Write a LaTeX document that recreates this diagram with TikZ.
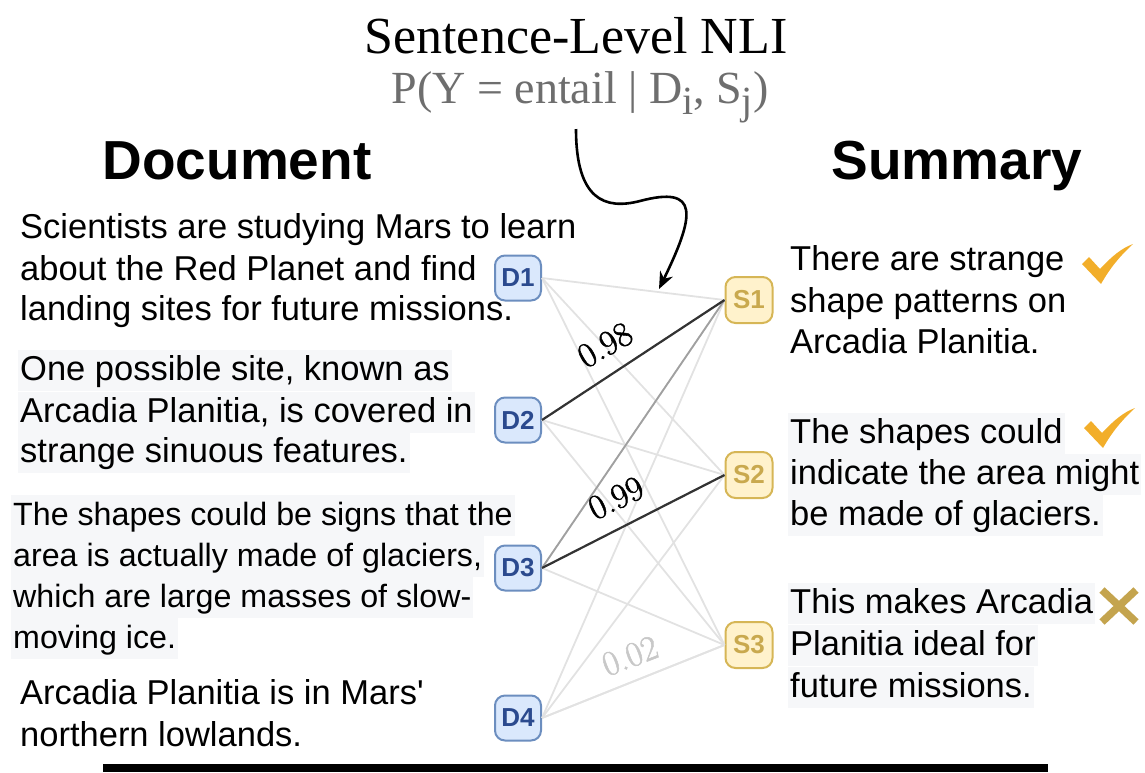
\documentclass[tikz,border=0pt]{standalone}
\usepackage{fontspec}
\setsansfont{Liberation Sans}
\newfontfamily\titlefont{Liberation Serif}
\newfontfamily\scorefont{Latin Modern Roman}[FakeBold=1.5]
\usetikzlibrary{arrows.meta}
\definecolor{dfill}{HTML}{DAE8FC}
\definecolor{ddraw}{HTML}{6C8EBF}
\definecolor{dtext}{HTML}{2B4A8E}
\definecolor{sfill}{HTML}{FFF2CC}
\definecolor{sdraw}{HTML}{D6B656}
\definecolor{stext}{HTML}{C9A94E}
\definecolor{edgelight}{HTML}{E2E2E2}
\definecolor{edgemid}{HTML}{A0A0A0}
\definecolor{edgedark}{HTML}{333333}
\definecolor{hl}{HTML}{F6F7F9}
\definecolor{checkc}{HTML}{F2AE2A}
\definecolor{crossc}{HTML}{C4A44E}
\definecolor{formulac}{HTML}{6E6E6E}
\definecolor{lowlab}{HTML}{C8C8C8}
\newcommand\fsub[1]{\raisebox{-11pt}{\fontsize{40}{40}\selectfont #1}}
\begin{document}
\begin{tikzpicture}[x=1pt,y=-1pt,
  dnode/.style={draw=ddraw, fill=dfill, text=dtext, rounded corners=10pt, line width=2pt,
    minimum width=46pt, minimum height=45pt, inner sep=0pt,
    font=\sffamily\bfseries\fontsize{26}{26}\selectfont},
  snode/.style={draw=sdraw, fill=sfill, text=stext, rounded corners=10pt, line width=2pt,
    minimum width=47pt, minimum height=46pt, inner sep=0pt,
    font=\sffamily\bfseries\fontsize{26}{26}\selectfont},
  body/.style={anchor=base west, inner xsep=2pt, inner ysep=0pt, text height=30pt, text depth=11pt,
    font=\sffamily\fontsize{34.5}{41}\selectfont},
  smallbody/.style={body, font=\sffamily\fontsize{32.2}{41}\selectfont},
  hlbox/.style={fill=hl},
  lightedge/.style={draw=edgelight, line width=1.8pt},
  midedge/.style={draw=edgemid, line width=1.8pt},
  darkedge/.style={draw=edgedark, line width=2.2pt},
  score/.style={font=\scorefont\fontsize{35}{35}\selectfont, inner sep=0pt},
  header/.style={anchor=base, font=\sffamily\bfseries\fontsize{55}{55}\selectfont}
]
\useasboundingbox (0,0) rectangle (1145,772);

% headers
\node[anchor=base, font=\titlefont\fontsize{52}{52}\selectfont] (title) at (576,53) {Sentence-Level NLI};
\node[anchor=base, text=formulac, font=\titlefont\fontsize{46}{46}\selectfont] (formula) at (580,103)
  {P(Y = entail | D\fsub{i}, S\fsub{j})};
\node[header] (dochead) at (237,179) {Document};
\node[header] (sumhead) at (957,179) {Summary};

% sentence nodes
\node[dnode] (D1) at (518,278) {D1};
\node[dnode] (D2) at (518,420) {D2};
\node[dnode] (D3) at (518,568) {D3};
\node[dnode] (D4) at (518,718) {D4};
\node[snode] (S1) at (749,300) {S1};
\node[snode] (S2) at (749,475) {S2};
\node[snode] (S3) at (749,645) {S3};

% edges
\foreach \d in {D1,D2,D3,D4}{
  \foreach \s in {S1,S2,S3}{
    \draw[lightedge] (\d.east) -- (\s.west);
  }
}
\draw[midedge] (D3.east) -- (S1.west);
\draw[darkedge] (D2.east) -- (S1.west);
\draw[darkedge] (D3.east) -- (S2.west);
\draw[lightedge] (D4.east) -- (S3.west);

% scores
\node[score, rotate=30] (l98) at (605,345) {0.98};
\node[score, rotate=26] (l99) at (616,498) {0.99};
\node[score, rotate=21, text=lowlab] (l02) at (630,656) {0.02};

% arrow
\coordinate (arrs) at (576,129);
\coordinate (arre) at (659,289);
\draw[line width=2.6pt, -{Stealth[length=17pt,width=14pt]}] (arrs) .. controls (576,200) and (605,210) .. (640,201)
  .. controls (700,185) and (695,215) .. (arre);

% document text
\node[body] (b1a) at (18,238) {Scientists are studying Mars to learn};
\node[body] (b1b) at (18,280) {about the Red Planet and find};
\node[body] (b1c) at (18,320) {landing sites for future missions.};
\node[body,hlbox] (b2a) at (18,380) {One possible site, known as};
\node[body,hlbox] (b2b) at (18,422) {Arcadia Planitia, is covered in};
\node[body,hlbox] (b2c) at (18,462) {strange sinuous features.};
\node[smallbody,hlbox] (b3a) at (11,525) {The shapes could be signs that the};
\node[smallbody,hlbox] (b3b) at (11,566) {area is actually made of glaciers,};
\node[smallbody,hlbox] (b3c) at (11,607) {which are large masses of slow-};
\node[smallbody,hlbox] (b3d) at (11,648) {moving ice.};
\node[body] (b4a) at (18,704) {Arcadia Planitia is in Mars\textquotesingle};
\node[body] (b4b) at (18,746) {northern lowlands.};

% summary text
\node[body] (r1a) at (788,270) {There are strange};
\node[body] (r1b) at (788,312) {shape patterns on};
\node[body] (r1c) at (788,353) {Arcadia Planitia.};
\node[body,hlbox] (r2a) at (788,443) {The shapes could};
\node[body,hlbox] (r2b) at (788,484) {indicate the area might};
\node[body,hlbox] (r2c) at (788,525) {be made of glaciers.};
\node[body,hlbox] (r3a) at (788,613) {This makes Arcadia};
\node[body,hlbox] (r3b) at (788,655) {Planitia ideal for};
\node[body,hlbox] (r3c) at (788,697) {future missions.};

% marks
\fill[checkc] (1082,264) -- (1089,257) -- (1100,269) .. controls (1112,256) and (1122,248) .. (1133,244)
  .. controls (1120,256) and (1110,268) .. (1101,284) -- cycle;
\begin{scope}[shift={(2,164)}]
\fill[checkc] (1082,264) -- (1089,257) -- (1100,269) .. controls (1112,256) and (1122,248) .. (1133,244)
  .. controls (1120,256) and (1110,268) .. (1101,284) -- cycle;
\end{scope}
\draw[crossc, line width=7.5pt] (1102,590) -- (1136,622) (1136,590) -- (1102,622);

% bottom rule
\fill[black] (103,764) rectangle (1048,772);
\end{tikzpicture}
\end{document}
